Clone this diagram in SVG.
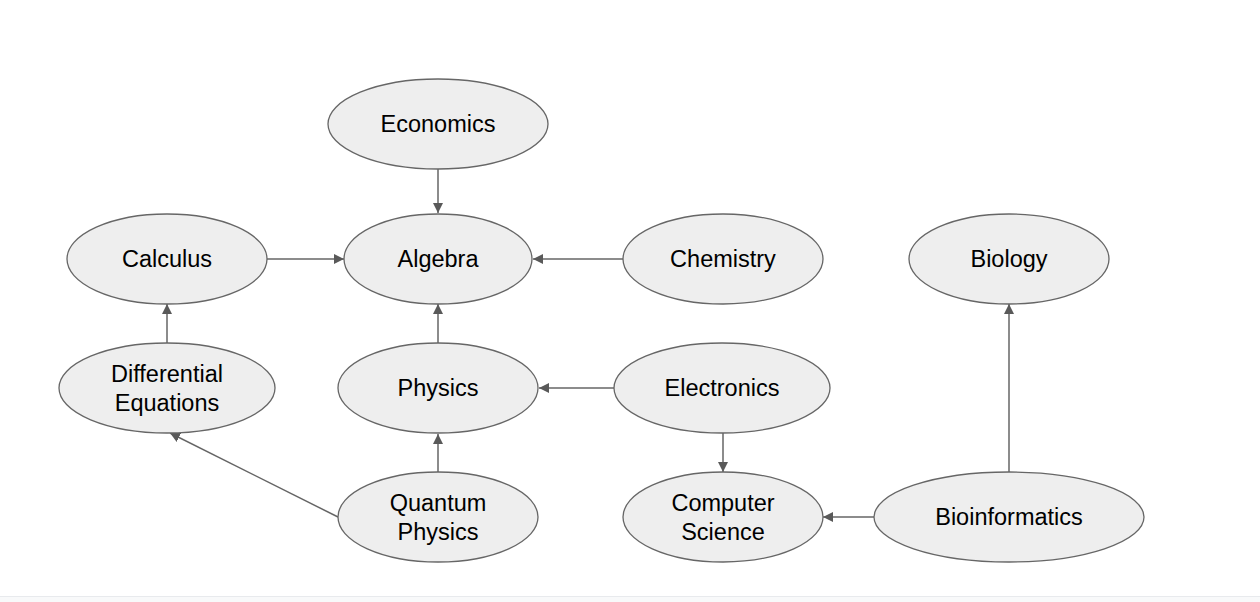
<svg xmlns="http://www.w3.org/2000/svg" width="1260" height="602" viewBox="0 0 1260 602">
<defs>
<style>
.n ellipse{fill:#eeeeee;stroke:#666666;stroke-width:1.3}
.n text{font-family:"Liberation Sans",Arial,sans-serif;font-size:23.5px;fill:#000;text-anchor:middle}
.e line{stroke:#666666;stroke-width:1.5;fill:none;marker-end:url(#ah)}
</style>
<marker id="ah" viewBox="0 0 10 10" refX="10" refY="5" markerWidth="10" markerHeight="10" markerUnits="userSpaceOnUse" orient="auto">
<path d="M0,0 L10,5 L0,10 z" fill="#595959"/>
</marker>
</defs>
<rect x="0" y="0" width="1260" height="602" fill="#ffffff"/>
<rect x="0" y="596" width="1260" height="6" fill="#f8f9fa"/>
<line x1="0" y1="596.5" x2="1260" y2="596.5" stroke="#e8eaed" stroke-width="1"/>
<g class="e" id="edges">
<line x1="438" y1="169" x2="438" y2="213"/>
<line x1="267" y1="259" x2="344" y2="259"/>
<line x1="623" y1="259" x2="533" y2="259"/>
<line x1="167" y1="343" x2="167" y2="304"/>
<line x1="438" y1="343" x2="438" y2="304"/>
<line x1="614" y1="388" x2="539" y2="388"/>
<line x1="438" y1="472" x2="438" y2="434"/>
<line x1="338" y1="517" x2="170" y2="433"/>
<line x1="723" y1="433" x2="723" y2="472"/>
<line x1="874" y1="517" x2="823" y2="517"/>
<line x1="1009" y1="472" x2="1009" y2="304"/>
</g>
<g class="n" id="economics"><ellipse cx="438" cy="124" rx="110" ry="45"/><text x="438" y="132">Economics</text></g>
<g class="n" id="algebra"><ellipse cx="438" cy="259" rx="94" ry="45"/><text x="438" y="267">Algebra</text></g>
<g class="n" id="calculus"><ellipse cx="167" cy="259" rx="100" ry="45"/><text x="167" y="267">Calculus</text></g>
<g class="n" id="chemistry"><ellipse cx="723" cy="259" rx="100" ry="45"/><text x="723" y="267">Chemistry</text></g>
<g class="n" id="biology"><ellipse cx="1009" cy="259" rx="100" ry="45"/><text x="1009" y="267">Biology</text></g>
<g class="n" id="diffeq"><ellipse cx="167" cy="388" rx="108" ry="45"/><text x="167" y="382">Differential</text><text x="167" y="411">Equations</text></g>
<g class="n" id="physics"><ellipse cx="438" cy="388" rx="100" ry="45"/><text x="438" y="396">Physics</text></g>
<g class="n" id="electronics"><ellipse cx="722" cy="388" rx="108" ry="45"/><text x="722" y="396">Electronics</text></g>
<g class="n" id="quantum"><ellipse cx="438" cy="517" rx="100" ry="45"/><text x="438" y="511">Quantum</text><text x="438" y="540">Physics</text></g>
<g class="n" id="compsci"><ellipse cx="723" cy="517" rx="100" ry="45"/><text x="723" y="511">Computer</text><text x="723" y="540">Science</text></g>
<g class="n" id="bioinformatics"><ellipse cx="1009" cy="517" rx="135" ry="45"/><text x="1009" y="525">Bioinformatics</text></g>
</svg>
